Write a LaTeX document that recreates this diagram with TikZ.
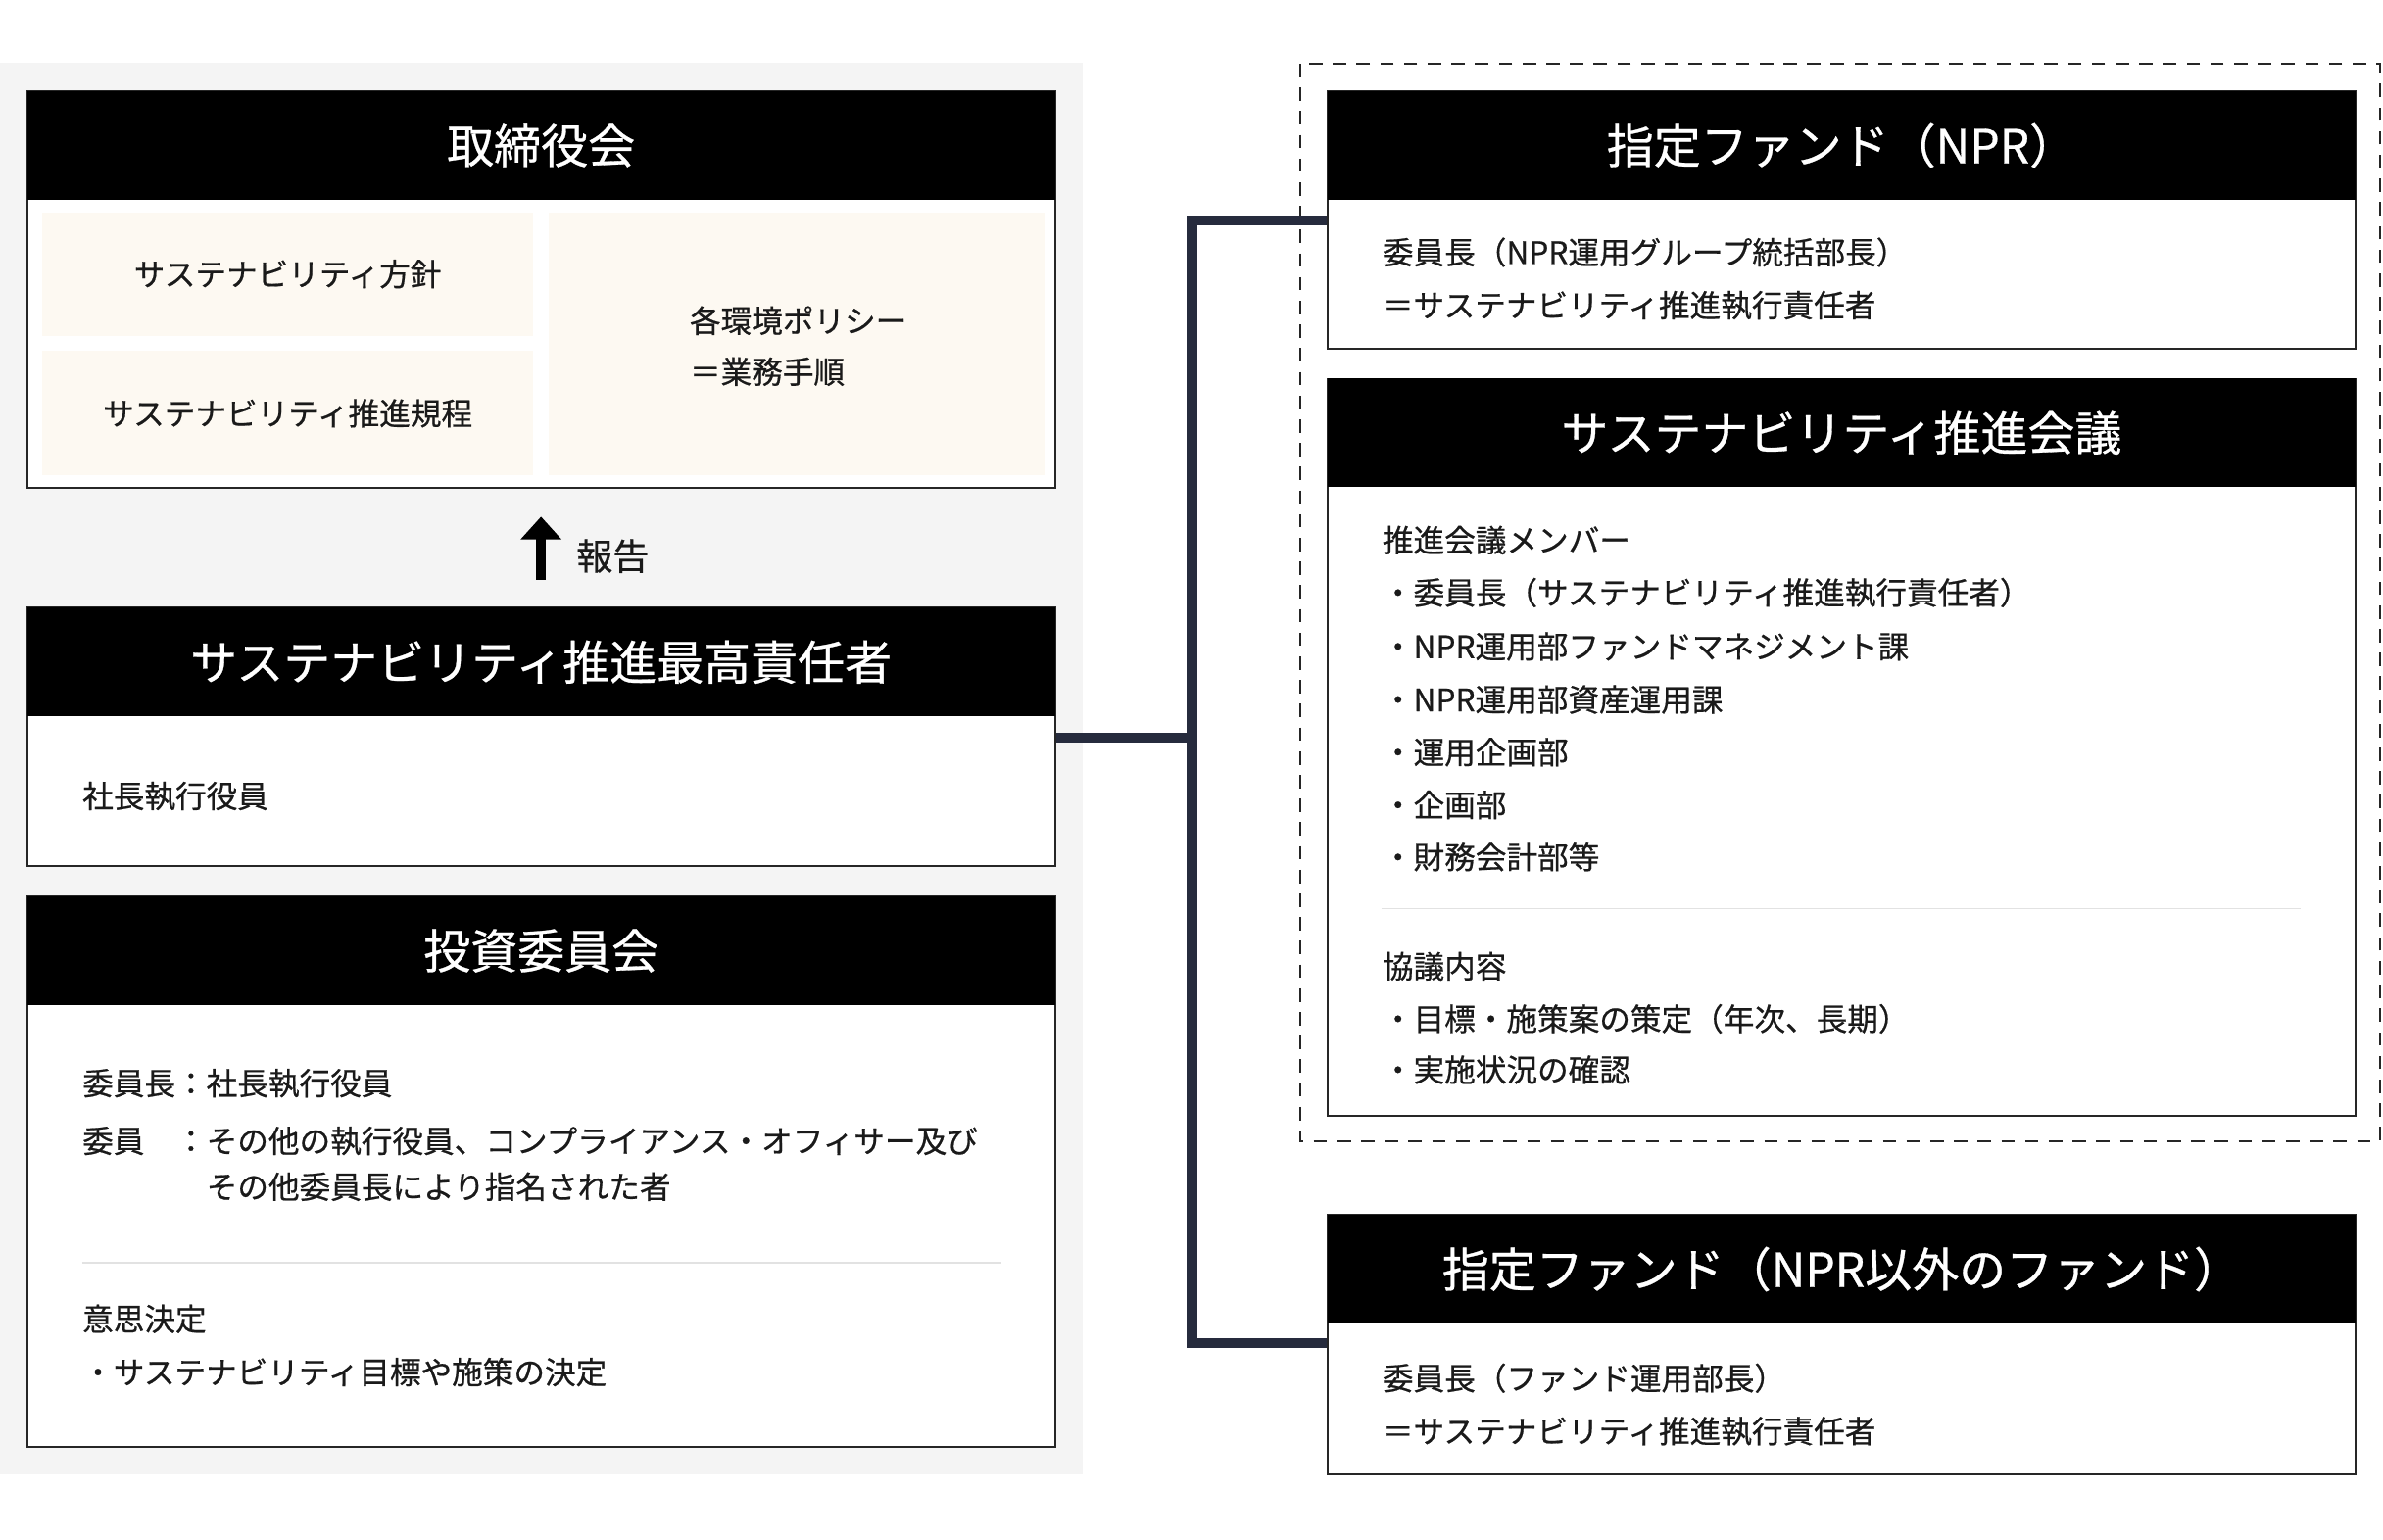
\documentclass[tikz,border=0pt]{standalone}
\usepackage{fontspec}
\setmainfont{Noto Sans CJK JP}[FakeBold=0.6]
\usepackage{tikz}
\usetikzlibrary{arrows.meta, positioning, calc}
\usepackage{xcolor}
\definecolor{PanelGray}{HTML}{F4F4F4}
\definecolor{CellCream}{HTML}{FDF9F2}
\definecolor{InkBlack}{HTML}{1A1A1A}
\definecolor{EdgeBlack}{HTML}{262626}
\definecolor{LinkNavy}{HTML}{262B3D}
\definecolor{RuleGray}{HTML}{E2E2E2}
\tikzset{
    % Box styles - sharp corners
    panel/.style={
        rectangle,
        draw=EdgeBlack,
        fill=white,
        line width=0.9pt,
        minimum width=16.9cm,
        inner sep=0pt
    },
    header/.style={
        rectangle,
        fill=black,
        text=white,
        minimum width=16.9cm,
        minimum height=1.7875cm,
        inner sep=0pt,
        font=\fontsize{22pt}{26pt}\selectfont
    },
    cell/.style={
        rectangle,
        fill=CellCream,
        inner sep=0pt,
        text=InkBlack,
        font=\fontsize{14.5pt}{18pt}\selectfont
    },
    bodytext/.style={
        anchor=west,
        inner sep=0pt,
        text=InkBlack,
        font=\fontsize{14.5pt}{18pt}\selectfont
    },
    groupbox/.style={
        draw=EdgeBlack,
        line width=0.8pt,
        dash pattern=on 0.22cm off 0.17cm
    },
    % Line styles
    link/.style={
        line width=0.165cm,
        draw=LinkNavy
    },
    reportarrow/.style={
        -{Triangle[length=0.375cm, width=0.65cm]},
        line width=0.17cm,
        draw=black
    },
    divider/.style={
        line width=0.7pt,
        draw=RuleGray
    }
}
\begin{document}
\begin{tikzpicture}[x=0.025cm, y=-0.025cm]
    \useasboundingbox (0,0) rectangle (1568,1013);
    \fill[PanelGray] (0,41.5) rectangle (712.5,970);
    \draw[groupbox] (855.7,41.9) rectangle (1566,751);

    % board
    \node[panel, minimum height=6.525cm] (board) at (356,190.5) {};
    \node[header] (boardHead) at (356,95.75) {取締役会};
    \node[cell, minimum width=8.085cm, minimum height=2.03cm] (policy) at (189.3,180.35) {サステナビリティ方針};
    \node[cell, minimum width=8.085cm, minimum height=2.05cm] (rules) at (189.3,272) {サステナビリティ推進規程};
    \node[cell, minimum width=8.15cm, minimum height=4.33cm] (envPolicy) at (524,226.35) {};
    \node[bodytext] (envA) at (453.6,211) {各環境ポリシー};
    \node[bodytext] (envB) at (453.6,244.6) {＝業務手順};

    % chief officer
    \node[panel, minimum height=4.25cm] (cso) at (356,485) {};
    \node[header] (csoHead) at (356,435.75) {サステナビリティ推進最高責任者};
    \node[bodytext] (csoA) at (54,524) {社長執行役員};

    \coordinate (arrowTail) at (356,381.6);
    \draw[reportarrow] (arrowTail) -- (boardHead |- 0,340);
    \node[bodytext, font=\fontsize{17pt}{20pt}\selectfont] (report) at (379,366) {報告};

    % investment committee
    \node[panel, minimum height=9.05cm] (invest) at (356,771) {};
    \node[header] (investHead) at (356,625.75) {投資委員会};
    \node[bodytext] (investA) at (54,713) {委員長：社長執行役員};
    \node[bodytext] (investB) at (54,751) {委員　：その他の執行役員、コンプライアンス・オフィサー及び};
    \node[bodytext] (investC) at (135.6,781) {その他委員長により指名された者};
    \draw[divider] (54,831) -- (659,831);
    \node[bodytext] (investD) at (54,868) {意思決定};
    \node[bodytext] (investE) at (54,903) {・サステナビリティ目標や施策の決定};

    % designated fund (NPR)
    \node[panel, minimum height=4.2375cm] (npr) at (1211.75,144.75) {};
    \node[header] (nprHead) at (1211.75,95.75) {指定ファンド（NPR）};
    \node[bodytext] (nprA) at (909.4,166) {委員長（NPR運用グループ統括部長）};
    \node[bodytext] (nprB) at (909.4,201) {＝サステナビリティ推進執行責任者};

    % promotion council
    \node[panel, minimum height=12.1175cm] (council) at (1211.75,491.65) {};
    \node[header] (councilHead) at (1211.75,284.9) {サステナビリティ推進会議};
    \node[bodytext] (memTitle) at (909.4,355.5) {推進会議メンバー};
    \node[bodytext] (mem1) at (909.4,390) {・委員長（サステナビリティ推進執行責任者）};
    \node[bodytext] (mem2) at (909.4,425.5) {・NPR運用部ファンドマネジメント課};
    \node[bodytext] (mem3) at (909.4,460.4) {・NPR運用部資産運用課};
    \node[bodytext] (mem4) at (909.4,495) {・運用企画部};
    \node[bodytext] (mem5) at (909.4,529.7) {・企画部};
    \node[bodytext] (mem6) at (909.4,564) {・財務会計部等};
    \draw[divider] (909,598) -- (1514,598);
    \node[bodytext] (topTitle) at (909.4,636) {協議内容};
    \node[bodytext] (top1) at (909.4,670.5) {・目標・施策案の策定（年次、長期）};
    \node[bodytext] (top2) at (909.4,704) {・実施状況の確認};

    % designated fund (others)
    \node[panel, minimum height=4.2625cm] (other) at (1211.75,884.75) {};
    \node[header] (otherHead) at (1211.75,835.25) {指定ファンド（NPR以外のファンド）};
    \node[bodytext] (otherA) at (909.4,907) {委員長（ファンド運用部長）};
    \node[bodytext] (otherB) at (909.4,942) {＝サステナビリティ推進執行責任者};

    % connectors
    \coordinate (hubTop) at (784.3,145);
    \coordinate (hubMid) at (784.3,485.5);
    \coordinate (hubBot) at (784.3,884);
    \draw[link] (hubMid -| cso.east) -- (hubMid);
    \draw[link] (hubTop -| npr.west) -- (hubTop) -- (hubBot) -- (hubBot -| other.west);
\end{tikzpicture}
\end{document}
